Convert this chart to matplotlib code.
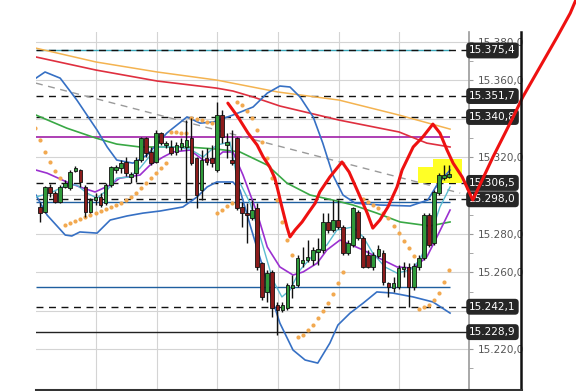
import numpy as np
import matplotlib.pyplot as plt
from matplotlib.patches import Rectangle, Polygon
from matplotlib.lines import Line2D

# candle data, bar number 0..81
opens = [15294.0, 15291.4, 15304.4, 15301.2, 15296.6, 15304.4, 15303.8, 15312.7, 15313.2, 15304.4,
         15291.4, 15297.6, 15299.2, 15296.0, 15305.4, 15313.2, 15314.2, 15317.4, 15309.6, 15311.6,
         15318.4, 15329.8, 15322.6, 15317.4, 15332.4, 15326.2, 15325.2, 15322.6, 15325.2, 15325.2,
         15329.8, 15319.4, 15302.8, 15319.4, 15319.4, 15313.2, 15341.8, 15326.2, 15318.4, 15329.8,
         15294.0, 15290.8, 15288.2, 15293.4, 15264.8, 15249.8, 15260.2, 15243.0, 15240.4, 15241.4,
         15251.8, 15253.4, 15264.8, 15266.4, 15266.4, 15270.6, 15271.6, 15286.2, 15282.0, 15287.2,
         15283.6, 15270.0, 15274.2, 15291.4, 15277.8, 15269.0, 15262.8, 15268.5, 15270.0, 15254.4,
         15251.8, 15252.4, 15261.7, 15262.8, 15252.4, 15262.8, 15267.4, 15289.8, 15275.2, 15301.2,
         15309.0, 15309.6]
highs = [15296.6, 15304.9, 15305.9, 15302.3, 15305.4, 15308.0, 15313.2, 15315.3, 15313.7, 15305.4,
         15298.6, 15301.2, 15301.2, 15306.4, 15315.3, 15315.8, 15318.4, 15320.0, 15312.2, 15320.0,
         15330.4, 15330.4, 15325.2, 15334.0, 15333.0, 15328.3, 15328.8, 15327.8, 15329.8, 15339.2,
         15340.2, 15320.0, 15323.6, 15324.6, 15326.2, 15348.6, 15344.4, 15332.4, 15334.0, 15330.4,
         15296.6, 15296.0, 15297.6, 15296.0, 15265.4, 15261.2, 15261.2, 15244.6, 15244.6, 15254.4,
         15258.6, 15269.0, 15273.2, 15276.8, 15273.2, 15277.8, 15290.8, 15290.8, 15297.6, 15297.6,
         15284.6, 15276.8, 15294.0, 15292.4, 15278.9, 15271.6, 15270.6, 15274.2, 15271.6, 15255.0,
         15257.6, 15263.8, 15265.4, 15264.8, 15264.8, 15269.0, 15290.8, 15290.8, 15302.8, 15311.6,
         15315.8, 15315.8]
lows = [15286.2, 15290.8, 15299.2, 15296.0, 15296.0, 15303.8, 15302.8, 15312.2, 15304.4, 15288.8,
        15290.8, 15295.0, 15294.0, 15295.0, 15304.4, 15311.6, 15311.6, 15310.1, 15306.4, 15307.0,
        15317.4, 15320.0, 15315.8, 15316.8, 15326.2, 15324.6, 15321.0, 15321.0, 15323.6, 15296.6,
        15315.8, 15293.4, 15297.6, 15315.8, 15314.8, 15312.2, 15327.2, 15319.4, 15315.8, 15292.4,
        15283.6, 15275.2, 15287.2, 15261.2, 15245.6, 15244.6, 15236.8, 15227.4, 15239.4, 15240.4,
        15246.6, 15252.4, 15262.8, 15265.4, 15263.8, 15263.8, 15270.0, 15280.4, 15281.0, 15282.5,
        15269.0, 15269.0, 15273.2, 15276.8, 15262.2, 15262.2, 15261.2, 15267.4, 15253.4, 15247.2,
        15249.8, 15251.3, 15257.6, 15242.0, 15250.8, 15261.2, 15266.4, 15273.2, 15274.2, 15300.2,
        15308.0, 15309.0]
closes = [15290.8, 15304.4, 15301.2, 15296.6, 15304.4, 15306.4, 15312.2, 15314.2, 15307.0, 15291.4,
          15297.6, 15299.2, 15295.0, 15305.4, 15314.8, 15314.8, 15316.8, 15311.6, 15311.1, 15318.4,
          15329.8, 15322.0, 15316.8, 15332.4, 15327.2, 15327.2, 15322.0, 15326.2, 15327.2, 15328.8,
          15316.8, 15300.2, 15318.4, 15317.4, 15316.8, 15341.8, 15330.4, 15327.8, 15316.8, 15293.4,
          15290.8, 15289.8, 15292.4, 15262.8, 15247.2, 15259.6, 15241.4, 15240.4, 15243.0, 15253.4,
          15253.4, 15267.4, 15266.4, 15268.0, 15271.6, 15272.1, 15286.2, 15282.0, 15287.2, 15283.6,
          15270.0, 15275.2, 15293.4, 15277.8, 15262.8, 15262.8, 15269.0, 15272.1, 15255.0, 15252.4,
          15254.4, 15262.2, 15262.8, 15252.4, 15263.3, 15267.4, 15289.8, 15274.2, 15301.8, 15310.6,
          15310.6, 15311.1]

# indicator lines (bar number, price)
ma_orange_x = [-0.8, 11.1, 23.2, 35.0, 47.1, 59.2, 71.1, 81.2]
ma_orange_y = [15376.6, 15369.4, 15364.2, 15360.0, 15353.8, 15349.6, 15341.8, 15334.5]

ma_red_x = [-0.8, 11.1, 23.2, 35.0, 38.2, 42.2, 47.5, 59.2, 71.1, 76.6, 81.2]
ma_red_y = [15372.0, 15365.2, 15359.5, 15355.8, 15354.3, 15351.2, 15346.5, 15339.2, 15333.0, 15327.2, 15325.2]

ma_green_x = [-0.8, 5.3, 11.1, 15.2, 19.8, 29.1, 35.0, 39.6, 45.0, 48.9, 53.5, 58.0, 62.0, 66.7, 71.3, 77.2, 81.2]
ma_green_y = [15341.8, 15335.0, 15329.8, 15326.7, 15325.2, 15325.2, 15324.1, 15322.6, 15315.8, 15306.4,
              15300.2, 15297.6, 15295.0, 15290.8, 15286.2, 15284.1, 15286.2]

bb_up_x = [-0.8, 1.0, 4.0, 7.3, 11.3, 13.3, 15.2, 18.4, 21.2, 25.1, 29.1, 31.7, 34.3, 38.2, 42.2, 45.0,
           47.5, 49.5, 51.5, 54.1, 56.0, 58.0, 60.0, 62.4, 67.3, 73.3, 76.8, 78.6, 81.2]
bb_up_y = [15361.0, 15364.2, 15361.0, 15349.6, 15334.0, 15325.2, 15318.4, 15316.8, 15321.0, 15332.4,
           15340.8, 15337.6, 15338.2, 15341.8, 15346.0, 15353.2, 15356.9, 15356.4, 15351.2, 15340.8,
           15327.2, 15310.6, 15300.2, 15296.0, 15295.0, 15294.5, 15297.6, 15305.4, 15313.2]

bb_lo_x = [-0.8, 1.4, 5.0, 6.3, 7.9, 11.3, 13.9, 17.2, 20.4, 23.8, 28.3, 31.1, 33.1, 35.0, 38.2, 39.6,
           41.6, 44.0, 45.9, 47.5, 50.1, 52.5, 55.0, 57.4, 59.0, 61.4, 64.0, 66.7, 69.9, 73.9, 77.8, 81.2]
bb_lo_y = [15300.2, 15289.8, 15279.4, 15278.9, 15281.0, 15280.4, 15287.2, 15289.3, 15290.8, 15291.9,
           15294.0, 15299.2, 15304.4, 15307.0, 15307.0, 15302.8, 15284.6, 15263.8, 15246.6, 15233.6,
           15219.6, 15214.4, 15212.8, 15223.2, 15232.6, 15238.8, 15244.0, 15249.8, 15249.2, 15247.2,
           15244.6, 15238.8]

purple_x = [-0.8, 1.4, 5.3, 7.9, 10.9, 13.9, 15.8, 19.8, 21.8, 24.4, 26.3, 29.7, 32.3, 34.3, 36.2, 38.2,
            40.2, 43.0, 45.0, 47.5, 50.1, 52.1, 54.9, 56.8, 59.4, 64.0, 67.9, 70.7, 73.9, 76.6, 78.6, 81.2]
purple_y = [15313.2, 15311.6, 15307.0, 15304.4, 15301.8, 15305.4, 15309.0, 15310.6, 15315.8, 15320.0,
            15322.6, 15323.6, 15318.4, 15318.4, 15322.6, 15322.6, 15310.6, 15290.8, 15273.2, 15262.8,
            15258.6, 15260.2, 15264.8, 15271.6, 15276.8, 15271.6, 15266.4, 15262.8, 15262.2, 15268.0,
            15278.4, 15292.4]

teal_x = [-0.8, 2.0, 5.3, 7.3, 9.3, 11.3, 13.3, 15.2, 17.8, 19.8, 23.2, 27.1, 29.7, 32.3, 35.0, 37.6,
          39.0, 41.6, 44.2, 46.1, 47.9, 49.5, 51.5, 54.1, 56.8, 58.8, 62.0, 64.0, 65.9, 68.3, 70.7,
          73.3, 75.2, 77.2, 79.2, 81.2]
teal_y = [15299.2, 15301.2, 15305.4, 15305.4, 15301.2, 15298.6, 15302.8, 15309.0, 15309.6, 15314.2,
          15325.2, 15325.2, 15324.1, 15320.0, 15326.2, 15327.8, 15309.6, 15296.0, 15273.2, 15256.0,
          15247.2, 15250.8, 15261.2, 15269.0, 15274.2, 15282.0, 15283.6, 15278.4, 15270.0, 15262.8,
          15259.6, 15261.2, 15266.4, 15278.4, 15294.0, 15304.4]

trend_x = [-0.8, 83.2]
trend_y = [15358.4, 15301.2]

# parabolic SAR dots
sar_bar = list(range(-1, 61)) + list(range(64, 82))
sar_val = [15335.0, 15328.8, 15322.6, 15317.4, 15312.7, 15309.0,
           15284.6, 15285.6, 15286.7, 15287.7, 15288.8, 15289.8, 15290.8, 15291.9, 15292.9, 15294.0,
           15295.0, 15296.0, 15297.6, 15299.2, 15301.2, 15303.8, 15306.4, 15309.0, 15311.6, 15314.2, 15316.8,
           15333.0, 15333.0, 15332.4, 15332.4,
           15340.2, 15339.7, 15339.2, 15338.2, 15337.6,
           15290.8, 15292.4, 15294.5, 15296.0,
           15348.6, 15347.0, 15343.9, 15340.2, 15334.0, 15327.8, 15319.4, 15309.0, 15297.6, 15286.2,
           15276.8, 15269.0,
           15226.4, 15227.4, 15230.0, 15232.6, 15236.2, 15239.9, 15244.0, 15248.7, 15254.4, 15260.2,
           15298.1, 15296.6, 15295.0, 15293.4, 15290.8, 15288.2, 15284.1, 15280.4, 15276.3, 15272.6, 15268.5,
           15240.9, 15242.0, 15243.0, 15245.6, 15249.2, 15255.0, 15261.2]

# horizontal levels
dashed_levels = [15375.4, 15351.7, 15340.8, 15306.5, 15298.0, 15242.1]
box_levels = [15375.4, 15351.7, 15340.8, 15306.5, 15298.0, 15242.1, 15228.9]
axis_labels = [15220, 15260, 15280, 15320, 15360, 15380]
teal_level = 15375.4
magenta_level = 15330.5
blue_levels = [15296.8, 15252.5]
black_level = 15228.9

# hand drawn annotation
pen_x = [37.2, 39.2, 41.2, 43.0, 44.2, 45.5, 46.5, 47.1, 47.9, 48.9, 49.5, 50.5, 51.9, 53.1, 54.5,
         55.4, 57.4, 59.8, 61.2, 62.8, 64.8, 65.9, 67.3, 68.9, 70.7, 71.7, 73.9, 75.8, 77.8, 79.2,
         80.6, 81.8, 83.6, 84.8, 85.7, 89.7, 93.7, 95.6, 99.0, 102.4, 105.0, 106.1]
pen_y = [15348.0, 15340.8, 15332.4, 15326.2, 15320.0, 15314.8, 15309.0, 15302.8, 15294.0, 15283.6,
         15278.4, 15282.0, 15286.2, 15290.8, 15296.0, 15301.8, 15309.6, 15317.4, 15312.2, 15302.8,
         15290.8, 15283.0, 15287.2, 15294.0, 15304.4, 15313.2, 15325.2, 15330.4, 15337.1, 15332.4,
         15323.6, 15316.8, 15309.6, 15302.8, 15297.6, 15320.0, 15340.8, 15351.2, 15366.8, 15382.4,
         15394.8, 15401.6]
hl_x = [74.9, 77.8, 77.8, 83.6, 83.6, 74.9]
hl_y = [15314.8, 15314.8, 15318.9, 15318.9, 15306.4, 15306.4]


def de(v):
    return f"{v:,.1f}".replace(",", "X").replace(".", ",").replace("X", ".")


fig = plt.figure(figsize=(5.76, 3.91), dpi=100)
ax = fig.add_axes([36 / 576, 1 / 391, 433 / 576, 358 / 391])
ax.set_xlim(-0.79, 84.95)
ax.set_ylim(15198.8, 15385.0)

# grid
ax.set_xticks([11.1, 23.2, 35.0, 47.1, 59.2, 71.1])
ax.set_yticks(np.arange(15220, 15381, 20))
ax.set_yticks(np.arange(15210, 15385, 10), minor=True)
ax.grid(True, which='major', color='#d4d4d4', lw=0.8, zorder=0)
ax.set_axisbelow(True)
ax.tick_params(axis='x', length=0, labelbottom=False)
ax.yaxis.tick_right()
ax.tick_params(axis='y', which='both', length=3, color='#999999', labelsize=7.5,
               labelcolor='#555555', pad=3)
# the other tick labels sit under the price boxes
ax.set_yticklabels([de(v) if v in axis_labels else '' for v in np.arange(15220, 15381, 20)])
for s in ['top', 'left', 'bottom']:
    ax.spines[s].set_visible(False)
ax.spines['right'].set_color('#9a9a9a')
ax.spines['right'].set_linewidth(1.2)

# horizontal levels
ax.hlines(teal_level, -0.79, 81.2, color='#3aa6b9', lw=1.0, zorder=1)
ax.hlines(magenta_level, -0.79, 81.2, color='#a01fa8', lw=1.2, zorder=1)
ax.hlines(blue_levels, -0.79, 81.2, color='#1f5f9f', lw=1.0, zorder=1)
ax.axhline(black_level, color='#222222', lw=1.0, zorder=1)
for lv in dashed_levels:
    ax.axhline(lv, color='#111111', lw=1.0, dashes=(5, 4), zorder=1.2)

# yellow highlight
ax.add_patch(Polygon(list(zip(hl_x, hl_y)), closed=True, facecolor='#ffff1a', edgecolor='none',
                     alpha=0.95, zorder=1.5))

# indicator lines
ax.plot(trend_x, trend_y, color='#9a9a9a', lw=1.0, dashes=(5, 4), zorder=1.6)
ax.plot(ma_orange_x, ma_orange_y, color='#f4b350', lw=1.1, zorder=2)
ax.plot(ma_red_x, ma_red_y, color='#df2f3f', lw=1.2, zorder=2)
ax.plot(ma_green_x, ma_green_y, color='#39a845', lw=1.2, zorder=2)
ax.plot(bb_up_x, bb_up_y, color='#3670c4', lw=1.2, zorder=2)
ax.plot(bb_lo_x, bb_lo_y, color='#3670c4', lw=1.2, zorder=2)
ax.plot(purple_x, purple_y, color='#9b30d0', lw=1.2, zorder=2)
ax.plot(teal_x, teal_y, color='#5cbcd0', lw=1.0, zorder=2)
ax.plot(sar_bar, sar_val, 'o', ms=3.0, color='#f2a950', mec='none', zorder=2.5)

# candles
bars = np.arange(len(opens))
ax.vlines(bars, lows, highs, color='#111111', lw=1.0, zorder=3)
for i, o, c in zip(bars, opens, closes):
    lo, hi = min(o, c), max(o, c)
    if hi - lo < 1.0:
        lo, hi = (o + c) / 2 - 0.5, (o + c) / 2 + 0.5
    col = '#2f9a3a' if c >= o else '#8c1c1c'
    ax.add_patch(Rectangle((i - 0.36, lo), 0.72, hi - lo, facecolor=col, edgecolor='#111111',
                           lw=0.6, zorder=3.2))

# price boxes on the right axis
for lv in box_levels:
    ax.text(1.0542, lv, de(lv), transform=ax.get_yaxis_transform(), ha='center', va='center',
            fontsize=7.6, color='white', zorder=6, clip_on=False,
            bbox=dict(boxstyle='round,pad=0.28,rounding_size=0.35', fc='#262626', ec='none'))

# hand drawn red stroke
ax.plot(pen_x, pen_y, color='#ee1111', lw=2.2, solid_capstyle='round', solid_joinstyle='round',
        zorder=8, clip_on=False)

# frame lines outside the plot
fig.add_artist(Line2D([521 / 576, 521 / 576], [0, 359 / 391], color='#111111', lw=1.8))
fig.add_artist(Line2D([36 / 576, 521 / 576], [1 / 391, 1 / 391], color='#333333', lw=2.2))

fig.savefig('out.png', dpi=100)
